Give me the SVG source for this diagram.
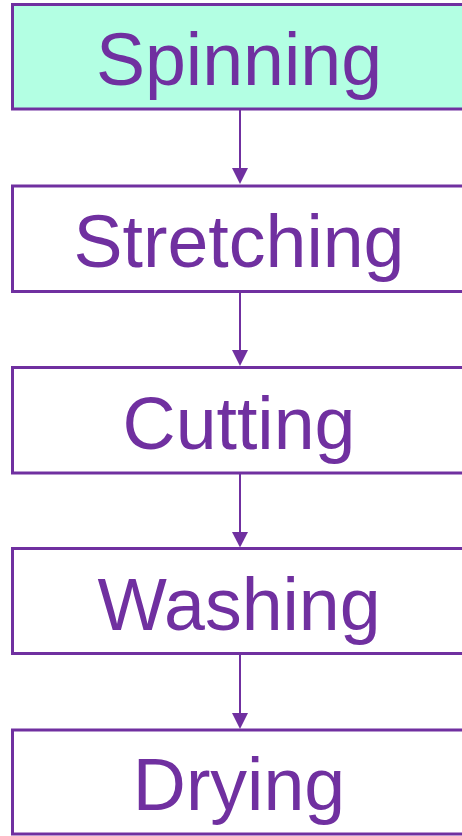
<svg xmlns="http://www.w3.org/2000/svg" width="462" height="836" viewBox="0 0 462 836">
<style>
.box{fill:#ffffff;stroke:#7030A0;stroke-width:3}
.first{fill:#B3FFE3}
.lbl{font-family:"Liberation Sans",Arial,sans-serif;font-size:73.5px;fill:#7030A0;text-anchor:middle}
.conn{stroke:#7030A0;stroke-width:2;fill:none}
.head{fill:#7030A0}
</style>
<g id="connectors">
<line class="conn" x1="240" y1="110" x2="240" y2="170"/>
<polygon class="head" points="232,168 248,168 240,184"/>
<line class="conn" x1="240" y1="291.5" x2="240" y2="351"/>
<polygon class="head" points="232,350 248,350 240,366"/>
<line class="conn" x1="240" y1="473" x2="240" y2="533"/>
<polygon class="head" points="232,532 248,532 240,547.5"/>
<line class="conn" x1="240" y1="654" x2="240" y2="714"/>
<polygon class="head" points="232,713 248,713 240,729"/>
</g>
<g id="node-spinning">
<rect class="box first" x="12.5" y="4.5" width="460" height="104.5"/>
<text class="lbl" x="239" y="85">Spinning</text>
</g>
<g id="node-stretching">
<rect class="box" x="12.5" y="186" width="460" height="105.5"/>
<text class="lbl" x="239" y="267">Stretching</text>
</g>
<g id="node-cutting">
<rect class="box" x="12.5" y="367.5" width="460" height="105.5"/>
<text class="lbl" x="239" y="448.5">Cutting</text>
</g>
<g id="node-washing">
<rect class="box" x="12.5" y="548.5" width="460" height="105"/>
<text class="lbl" x="239" y="630">Washing</text>
</g>
<g id="node-drying">
<rect class="box" x="12.5" y="730" width="460" height="104"/>
<text class="lbl" x="239" y="810">Drying</text>
</g>
</svg>
